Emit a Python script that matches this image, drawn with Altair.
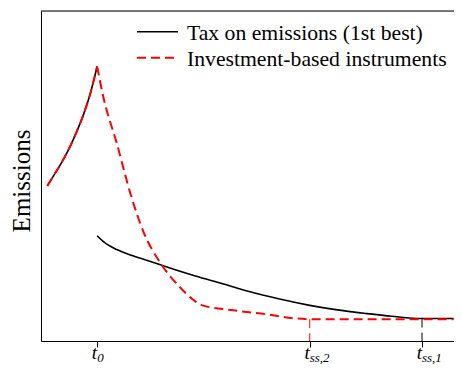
import altair as alt
import pandas as pd

# ---- data ----
t0 = 8.0
t_ss2 = 38.3
t_ss1 = 54.3
t_end = 58.8

rise_t = [0.9, 2.0, 3.0, 4.0, 5.0, 6.0, 7.0, 8.0]
rise_y = [47.0, 50.8, 54.3, 58.3, 63.0, 68.3, 74.8, 83.2]

tax_t = [8.0, 8.9, 10.8, 13.0, 15.5, 17.4, 22.0, 26.0, 29.8, 34.0, 38.3, 42.0, 46.5, 50.0, 54.3, t_end]
tax_y = [31.9, 30.1, 27.7, 25.9, 24.2, 22.8, 19.7, 17.3, 14.9, 12.7, 10.8, 9.5, 8.3, 7.5, 6.8, 6.8]

inv_t = [8.0, 8.9, 10.8, 12.7, 14.6, 17.0, 19.8, 21.7, 22.7, 27.4, 32.2, 36.0, 38.3, t_end]
inv_y = [83.2, 73.8, 59.9, 45.0, 33.1, 23.7, 16.3, 12.5, 11.0, 9.3, 8.1, 6.9, 6.6, 6.6]

tick_pos = [t0, t_ss2, t_ss1]
tick_main = ["t", "t", "t"]
tick_sub = ["0", "ss,2", "ss,1"]

legend_labels = ["Tax on emissions (1st best)", "Investment-based instruments"]
y_title = "Emissions"

# ---- layout ----
W, H = 413, 330
SERIF = "Liberation Serif"

xs = alt.Scale(domain=[0, 58.86], nice=False, zero=False)
ys = alt.Scale(domain=[0, 100], nice=False, zero=False)
X = alt.X("t:Q", scale=xs,
          axis=alt.Axis(values=tick_pos, labels=False, title=None, grid=False,
                        tickSize=6, tickColor="black", tickWidth=1,
                        domainColor="black", domainWidth=1))
Y = alt.Y("y:Q", scale=ys,
          axis=alt.Axis(labels=False, ticks=False, title=None, grid=False,
                        domainColor="black", domainWidth=1))

black_df = pd.DataFrame({
    "t": rise_t + tax_t,
    "y": rise_y + tax_y,
    "seg": ["a"] * len(rise_t) + ["b"] * len(tax_t),
    "o": list(range(len(rise_t) + len(tax_t))),
})
red_df = pd.DataFrame({
    "t": rise_t + inv_t,
    "y": rise_y + inv_y,
    "seg": ["a"] * len(rise_t) + ["b"] * len(inv_t),
    "o": list(range(len(rise_t) + len(inv_t))),
})

black = alt.Chart(black_df).mark_line(color="black", strokeWidth=1.6, interpolate="monotone").encode(
    x=X, y=Y, detail="seg:N", order="o:Q")
red = alt.Chart(red_df).mark_line(color="#ff0000", strokeWidth=2, strokeDash=[9, 5],
                                  interpolate="monotone").encode(
    x=X, y=Y, detail="seg:N", order="o:Q")

vred = alt.Chart(pd.DataFrame({"t": [t_ss2], "y": [inv_y[-1]], "y0": [0.0]})).mark_rule(
    color="#ff0000", strokeWidth=1, strokeDash=[9, 5]).encode(
    x=X, y=Y, y2="y0:Q")
vblk = alt.Chart(pd.DataFrame({"t": [t_ss1], "y": [tax_y[-1]], "y0": [0.0]})).mark_rule(
    color="black", strokeWidth=1, strokeDash=[9, 5]).encode(
    x=X, y=Y, y2="y0:Q")

lab_df = pd.DataFrame({"t": tick_pos, "main": tick_main, "sub": tick_sub})
lab_df["dx"] = [6.6 - 2.9 * len(s) for s in tick_sub]
main_lab = alt.Chart(lab_df).mark_text(
    font=SERIF, fontSize=19, fontStyle="italic", align="right", baseline="alphabetic", color="black"
).encode(x=X, y=alt.value(348), text="main:N", xOffset="dx:Q")
sub_lab = alt.Chart(lab_df).mark_text(
    font=SERIF, fontSize=13, fontStyle="italic", align="left", baseline="alphabetic", color="black"
).encode(x=X, y=alt.value(350.5), text="sub:N", xOffset="dx:Q")

dummy = pd.DataFrame({"a": [0]})
top_border = alt.Chart(dummy).mark_rule(color="black", strokeWidth=1).encode(
    x=alt.value(0), x2=alt.value(W), y=alt.value(0))

leg_black = alt.Chart(dummy).mark_rule(color="black", strokeWidth=1.6).encode(
    x=alt.value(96), x2=alt.value(137), y=alt.value(20.7))
leg_red = alt.Chart(dummy).mark_rule(color="#ff0000", strokeWidth=2, strokeDash=[9, 5]).encode(
    x=alt.value(96), x2=alt.value(137), y=alt.value(46.7))
leg_text = alt.Chart(pd.DataFrame({"label": legend_labels, "yy": [29, 54.7]})).mark_text(
    font=SERIF, fontSize=21.7, align="left", baseline="alphabetic", color="black"
).encode(x=alt.value(146), y=alt.Y("yy:Q", scale=None), text="label:N")

ytitle = alt.Chart(dummy).mark_text(
    font=SERIF, fontSize=25, angle=270, align="center", baseline="alphabetic", color="black"
).encode(x=alt.value(-11.5), y=alt.value(170), text=alt.value(y_title))

chart = alt.layer(
    black, red, vred, vblk, main_lab, sub_lab, top_border, leg_black, leg_red, leg_text, ytitle
).properties(
    width=W, height=H,
    autosize=alt.AutoSizeParams(type="none"),
    padding={"left": 33, "top": 3, "right": 0, "bottom": 23},
).configure_view(stroke=None).configure(background="white")

chart.save("out.html", embed_options={"renderer": "svg", "actions": False})
